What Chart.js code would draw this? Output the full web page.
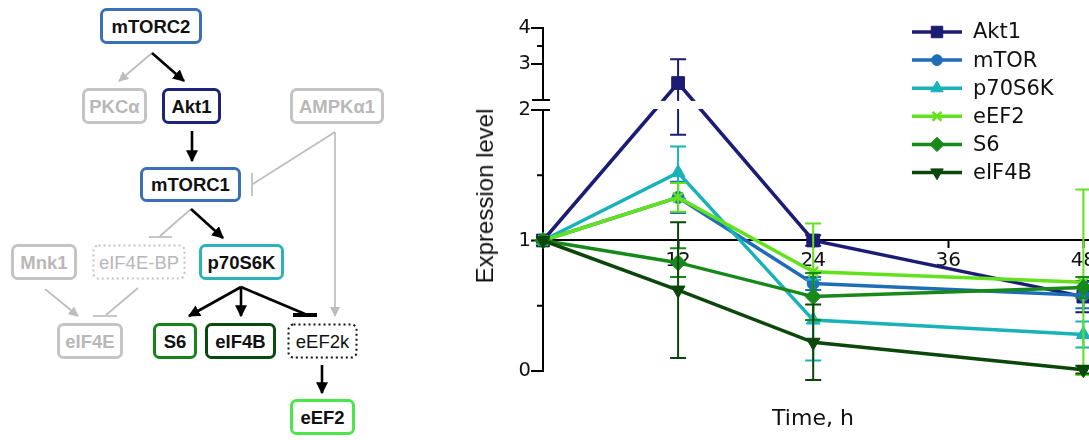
<!DOCTYPE html>
<html>
<head>
<meta charset="utf-8">
<script src="https://cdn.jsdelivr.net/npm/chart.js"></script>
<style>
  html, body { margin: 0; padding: 0; background: #fff; overflow: hidden; }
  body { width: 1089px; height: 440px; position: relative; font-family: "Liberation Sans", Arial, sans-serif; }
  #pathway { position: absolute; left: 0; top: 0; }
  #pathway text { font-family: "Liberation Sans", Arial, sans-serif; font-size: 18.5px; }
  #wrap { position: absolute; left: 440px; top: 0; width: 649px; height: 440px; }
  .axis-title { position: absolute; color: #111; white-space: nowrap; }
  #ytitle { left: 485px; top: 196px; font-size: 24px; transform: translate(-50%, -50%) rotate(-90deg); }
  #xtitle { left: 813px; top: 417px; font-size: 22px; font-family: "DejaVu Sans", sans-serif; transform: translate(-50%, -50%); }
</style>
</head>
<body>

<svg id="pathway" width="440" height="440" viewBox="0 0 440 440">
  <defs>
    <marker id="ah" viewBox="0 0 10 10" refX="9" refY="5" markerWidth="12" markerHeight="12" markerUnits="userSpaceOnUse" orient="auto">
      <path d="M0,0 L10,5 L0,10 z" fill="#000"/>
    </marker>
    <marker id="ahg" viewBox="0 0 10 10" refX="9" refY="5" markerWidth="10" markerHeight="10" markerUnits="userSpaceOnUse" orient="auto">
      <path d="M0,0 L10,5 L0,10 z" fill="#bdbdbd"/>
    </marker>
  </defs>

  <!-- grey (inactive) links -->
  <g stroke="#bdbdbd" stroke-width="1.7" fill="none">
    <line x1="152" y1="53" x2="119" y2="81" marker-end="url(#ahg)"/>
    <line x1="335" y1="132" x2="253" y2="184"/>
    <line x1="252" y1="173" x2="252" y2="196"/>
    <line x1="335" y1="132" x2="335" y2="316" marker-end="url(#ahg)"/>
    <line x1="191" y1="209" x2="160" y2="236"/>
    <line x1="149" y1="237" x2="172" y2="237"/>
    <line x1="45" y1="289" x2="78" y2="316" marker-end="url(#ahg)"/>
    <line x1="138" y1="288" x2="106" y2="315"/>
    <line x1="93" y1="316" x2="117" y2="316"/>
  </g>

  <!-- black (active) links -->
  <g stroke="#000" stroke-width="2.6" fill="none">
    <line x1="152" y1="53" x2="184" y2="81" marker-end="url(#ah)"/>
    <line x1="192" y1="131" x2="192" y2="161" marker-end="url(#ah)"/>
    <line x1="191" y1="209" x2="223" y2="238" marker-end="url(#ah)"/>
    <line x1="241" y1="287" x2="189" y2="316" marker-end="url(#ah)"/>
    <line x1="241" y1="287" x2="241" y2="316" marker-end="url(#ah)"/>
    <line x1="241" y1="287" x2="305" y2="314"/>
    <line x1="293" y1="315" x2="317" y2="315" stroke-width="4"/>
    <line x1="322" y1="365" x2="322" y2="393" marker-end="url(#ah)"/>
  </g>

  <!-- boxes -->
  <g fill="#fff" stroke-width="3">
    <rect x="101.5" y="9.5" width="99" height="33" rx="5" stroke="#3a70b6"/>
    <rect x="83.5" y="89.5" width="62" height="33" rx="5" stroke="#c4c4c4"/>
    <rect x="163.5" y="89.5" width="56" height="33" rx="5" stroke="#1b2478"/>
    <rect x="291.5" y="89.5" width="91" height="33" rx="5" stroke="#c4c4c4"/>
    <rect x="141.5" y="168.5" width="98" height="32" rx="5" stroke="#3a70b6"/>
    <rect x="12.5" y="245.5" width="63" height="33" rx="5" stroke="#c4c4c4"/>
    <rect x="93.5" y="245.5" width="91" height="33" rx="5" stroke="#c4c4c4" stroke-width="2" stroke-dasharray="2 3"/>
    <rect x="200.5" y="245.5" width="82" height="33" rx="5" stroke="#2bb3b9"/>
    <rect x="58.5" y="324.5" width="63" height="33" rx="5" stroke="#c4c4c4"/>
    <rect x="154.5" y="324.5" width="41" height="33" rx="5" stroke="#17831a"/>
    <rect x="206.5" y="324.5" width="68" height="33" rx="5" stroke="#0b4a0e"/>
    <rect x="288.5" y="324.5" width="68" height="33" rx="5" stroke="#111" stroke-width="2" stroke-dasharray="2 3"/>
    <rect x="291.5" y="400.5" width="62" height="33" rx="5" stroke="#4ae64a"/>
  </g>

  <!-- labels -->
  <g text-anchor="middle" dominant-baseline="central">
    <text x="151" y="26" font-weight="bold" fill="#111">mTORC2</text>
    <text x="114.5" y="106" font-weight="bold" fill="#b8b8b8">PKCα</text>
    <text x="191.5" y="106" font-weight="bold" fill="#111">Akt1</text>
    <text x="337" y="106" font-weight="bold" fill="#b8b8b8">AMPKα1</text>
    <text x="190.5" y="184.5" font-weight="bold" fill="#111">mTORC1</text>
    <text x="44" y="262" font-weight="bold" fill="#b8b8b8">Mnk1</text>
    <text x="139" y="262" fill="#b8b8b8">eIF4E-BP</text>
    <text x="241.5" y="262" font-weight="bold" fill="#111">p70S6K</text>
    <text x="90" y="341" font-weight="bold" fill="#b8b8b8">eIF4E</text>
    <text x="175" y="341" font-weight="bold" fill="#111">S6</text>
    <text x="240.5" y="341" font-weight="bold" fill="#111">eIF4B</text>
    <text x="322.5" y="341" fill="#111">eEF2k</text>
    <text x="322.5" y="417" font-weight="bold" fill="#111">eEF2</text>
  </g>
</svg>

<div id="wrap"><canvas id="expr" width="649" height="440"></canvas></div>
<div class="axis-title" id="ytitle">Expression level</div>
<div class="axis-title" id="xtitle">Time, h</div>

<script>
// time points (h)
const times = [0, 12, 24, 48];

// mean expression level per protein
const akt1  = [1, 2.47, 1.0, 0.57];
const mtor  = [1, 1.33, 0.67, 0.58];
const p70   = [1, 1.52, 0.39, 0.28];
const eef2  = [1, 1.33, 0.76, 0.68];
const s6    = [1, 0.83, 0.57, 0.64];
const eif4b = [1, 0.62, 0.22, 0.01];

// error bars (+/-)
const akt1Err  = [0, 0.66, 0.04, 0.12];
const mtorErr  = [0, 0.12, 0.05, 0.1];
const p70Err   = [0, 0.2, 0.31, 0.1];
const eef2Err  = [0, 0.11, 0.37, 0.71];
const s6Err    = [0, 0.11, 0.18, 0.08];
const eif4bErr = [0, 0.52, 0.29, 0.03];

const seriesNames = ["Akt1", "mTOR", "p70S6K", "eEF2", "S6", "eIF4B"];
const xTicks = [0, 12, 24, 36, 48];
const yTickValues = [0, 1, 2, 3, 4];
const yMinorValues = [0.5, 1.5, 3.5];

// broken y axis: 0-2 normal, 2-4 squeezed above a small gap
const BREAK = 2;
const GAP_START = 2.077;
const UPPER_K = 0.276;
function disp(v) {
    return v <= BREAK ? v : GAP_START + (v - BREAK) * UPPER_K;
}

function pts(vals) {
    return vals.map((v, i) => ({ x: times[i], y: disp(v) }));
}

const FONT = "'DejaVu Sans', sans-serif";

function series(label, vals, err, color, style, radius, order, extra) {
    return Object.assign({
        label: label,
        data: pts(vals),
        errors: err,
        raw: vals,
        borderColor: color,
        backgroundColor: color,
        pointBackgroundColor: color,
        pointBorderColor: color,
        borderWidth: 3.5,
        pointStyle: style,
        pointRadius: radius,
        pointBorderWidth: 1,
        tension: 0,
        clip: false,
        order: order,
    }, extra || {});
}

const datasets = [
    series(seriesNames[0], akt1, akt1Err, "#1c1c74", "rect", 9, 6),
    series(seriesNames[1], mtor, mtorErr, "#1f6db8", "circle", 6, 5),
    series(seriesNames[2], p70, p70Err, "#18b2b8", "triangle", 8, 4),
    series(seriesNames[3], eef2, eef2Err, "#62e21c", "crossRot", 7, 3, { pointBorderWidth: 2.5 }),
    series(seriesNames[4], s6, s6Err, "#17891a", "rectRot", 8, 2),
    series(seriesNames[5], eif4b, eif4bErr, "#0b470b", "triangle", 8, 1, { pointRotation: 180 }),
];

// error bars, drawn just under each dataset's own line
const errorBars = {
    id: "errorBars",
    beforeDatasetDraw(chart, args) {
        const ds = chart.data.datasets[args.index];
        const xs = chart.scales.x, ys = chart.scales.y;
        const ctx = chart.ctx;
        ctx.save();
        ctx.strokeStyle = ds.borderColor;
        ctx.lineWidth = 2;
        ds.raw.forEach((v, i) => {
            const e = ds.errors[i];
            if (!e) return;
            const x = xs.getPixelForValue(times[i]);
            const yHi = ys.getPixelForValue(disp(v + e));
            const yLo = ys.getPixelForValue(disp(v - e));
            ctx.beginPath();
            ctx.moveTo(x, yHi); ctx.lineTo(x, yLo);
            ctx.moveTo(x - 8, yHi); ctx.lineTo(x + 8, yHi);
            ctx.moveTo(x - 8, yLo); ctx.lineTo(x + 8, yLo);
            ctx.stroke();
        });
        ctx.restore();
    },
};

// y axis line with minor ticks and the break marks
const brokenAxis = {
    id: "brokenAxis",
    beforeDatasetsDraw(chart) {
        const ys = chart.scales.y, ctx = chart.ctx;
        const L = chart.chartArea.left;
        ctx.save();
        ctx.strokeStyle = "#000";
        ctx.lineWidth = 2;
        ctx.beginPath();
        ctx.moveTo(L, ys.getPixelForValue(0) + 1);
        ctx.lineTo(L, ys.getPixelForValue(disp(BREAK)));
        ctx.moveTo(L, ys.getPixelForValue(GAP_START));
        ctx.lineTo(L, ys.getPixelForValue(disp(4)) - 1);
        yTickValues.forEach(v => {
            const y = ys.getPixelForValue(disp(v));
            ctx.moveTo(L - 12, y); ctx.lineTo(L, y);
        });
        yMinorValues.forEach(v => {
            const y = ys.getPixelForValue(disp(v));
            ctx.moveTo(L - 6, y); ctx.lineTo(L, y);
        });
        ctx.stroke();
        ctx.restore();
    },
    afterDatasetsDraw(chart) {
        const ys = chart.scales.y, ctx = chart.ctx;
        const L = chart.chartArea.left;
        const yA = ys.getPixelForValue(GAP_START);
        const yB = ys.getPixelForValue(BREAK);
        ctx.save();
        ctx.fillStyle = "#fff";
        ctx.fillRect(L - 9, yA + 1, chart.width - L + 9, yB - yA - 2);
        ctx.strokeStyle = "#000";
        ctx.lineWidth = 2;
        ctx.beginPath();
        ctx.moveTo(L - 11, yA); ctx.lineTo(L + 7, yA);
        ctx.moveTo(L - 11, yB); ctx.lineTo(L + 7, yB);
        ctx.stroke();
        ctx.restore();
    },
};

// legend in the upper right of the plot
const sideLegend = {
    id: "sideLegend",
    afterDraw(chart) {
        const ctx = chart.ctx;
        const drawPoint = Chart.helpers && Chart.helpers.drawPoint;
        ctx.save();
        chart.data.datasets.forEach((ds, i) => {
            const y = 32 + i * 28.1;
            ctx.strokeStyle = ds.borderColor;
            ctx.fillStyle = ds.borderColor;
            ctx.lineWidth = 3.5;
            ctx.beginPath();
            ctx.moveTo(472, y); ctx.lineTo(522, y);
            ctx.stroke();
            if (drawPoint) {
                ctx.lineWidth = ds.pointBorderWidth;
                drawPoint(ctx, {
                    pointStyle: ds.pointStyle,
                    radius: ds.pointRadius * 0.9,
                    rotation: ds.pointRotation || 0,
                    borderWidth: ds.pointBorderWidth,
                }, 497, y);
            }
            ctx.fillStyle = "#111";
            ctx.font = "21px " + FONT;
            ctx.textBaseline = "middle";
            ctx.textAlign = "left";
            ctx.fillText(ds.label, 533, y + 1);
        });
        ctx.restore();
    },
};

new Chart(document.getElementById("expr"), {
    type: "line",
    data: { datasets: datasets },
    options: {
        responsive: false,
        animation: false,
        events: [],
        layout: { autoPadding: false, padding: { top: 18.65, bottom: 36.4, left: 0, right: 0 } },
        plugins: { legend: { display: false }, tooltip: { enabled: false } },
        scales: {
            x: {
                type: "linear",
                position: { y: 1 },
                min: 0,
                max: 48.5,
                afterBuildTicks(scale) {
                    scale.ticks = xTicks.map(v => ({ value: v }));
                },
                afterFit(scale) {
                    scale.paddingLeft = 0;
                    scale.paddingRight = 0;
                },
                grid: { drawOnChartArea: false, drawTicks: true, tickLength: 7, tickWidth: 2, color: "#000" },
                border: { display: true, color: "#000", width: 2 },
                ticks: {
                    autoSkip: false,
                    maxRotation: 0,
                    padding: 1,
                    color: "#111",
                    font: { family: FONT, size: 20 },
                    callback: (v) => (v === 0 ? "" : String(v)),
                },
            },
            y: {
                type: "linear",
                min: -0.25,
                max: 2.7,
                afterBuildTicks(scale) {
                    scale.ticks = yTickValues.map(v => ({ value: disp(v) }));
                },
                afterFit(scale) {
                    scale.width = 103;
                    scale.paddingTop = 0;
                    scale.paddingBottom = 0;
                },
                grid: { display: false, drawTicks: false },
                border: { display: false },
                ticks: {
                    padding: 12,
                    color: "#111",
                    font: { family: FONT, size: 19.5 },
                    callback: (v, i) => String(yTickValues[i]),
                },
            },
        },
    },
    plugins: [errorBars, brokenAxis, sideLegend],
});
</script>
</body>
</html>
